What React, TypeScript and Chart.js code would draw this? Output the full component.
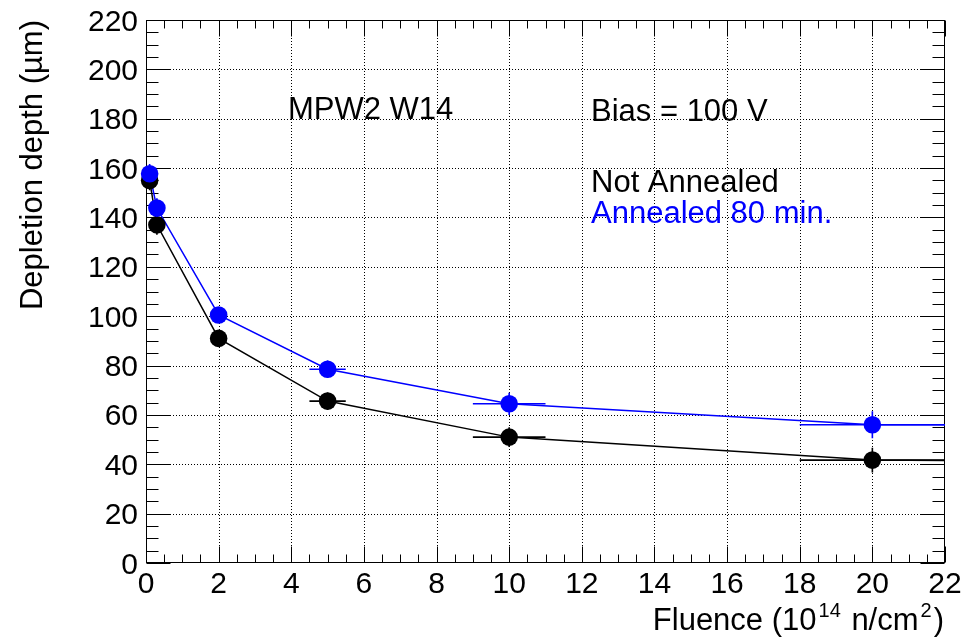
import React, { useEffect, useRef } from "react";
import { Chart, registerables } from "chart.js";

Chart.register(...registerables);

// ---- data ----
const fluence = [0.1, 0.3, 2, 5, 10, 20];
const fluenceErr = [0.01, 0.03, 0.2, 0.5, 1, 2];
const notAnnealed = [155, 137, 91, 65.6, 51, 41.7];
const notAnnealedErr = [4, 4, 3, 3.5, 4, 5];
const annealed = [157.7, 143.8, 100.5, 78.5, 64.5, 56];
const annealedErr = [4, 4, 3, 3.5, 4.5, 5.5];
const tailX = 22;
const notAnnealedTail = 41.5;
const annealedTail = 56;

const xRange = [0, 22];
const yRange = [0, 220];
const xMajorStep = 2;
const yMajorStep = 20;
const xMinorPerMajor = 4;
const yMinorPerMajor = 4;

const xTitleParts = [
  { t: "Fluence (10", sup: false },
  { t: "14", sup: true },
  { t: " n/cm", sup: false },
  { t: "2", sup: true },
  { t: ")", sup: false },
];
const yTitle = "Depletion depth (\u00b5m)";
const labelTitle = "MPW2 W14";
const labelBias = "Bias = 100 V";
const legendNot = "Not Annealed";
const legendAnn = "Annealed 80 min.";

const BLACK = "#000000";
const BLUE = "#0000ff";
const FONT = '"Liberation Sans", Arial, Helvetica, sans-serif';

const toPts = (xs: number[], ys: number[]) => xs.map((x, i) => ({ x, y: ys[i] }));

const rootPlugin = {
  id: "rootStyle",
  beforeDatasetsDraw(chart: any) {
    const { ctx, chartArea: a } = chart;
    const xs = chart.scales.x;
    const ys = chart.scales.y;
    ctx.save();
    // dotted grid
    ctx.strokeStyle = BLACK;
    ctx.lineWidth = 1;
    ctx.setLineDash([1, 2]);
    xs.ticks.forEach((t: any) => {
      if (t.value <= xs.min || t.value >= xs.max) return;
      const px = Math.round(xs.getPixelForValue(t.value)) + 0.5;
      ctx.beginPath();
      ctx.moveTo(px, a.top);
      ctx.lineTo(px, a.bottom);
      ctx.stroke();
    });
    ys.ticks.forEach((t: any) => {
      if (t.value <= ys.min || t.value >= ys.max) return;
      const py = Math.round(ys.getPixelForValue(t.value)) + 0.5;
      ctx.beginPath();
      ctx.moveTo(a.left, py);
      ctx.lineTo(a.right, py);
      ctx.stroke();
    });
    ctx.setLineDash([]);

    // frame
    const L = Math.round(a.left) + 0.5;
    const R = Math.round(a.right) - 0.5;
    const T = Math.round(a.top) + 0.5;
    const B = Math.round(a.bottom) - 0.5;
    ctx.lineWidth = 1;
    ctx.strokeRect(L, T, R - L, B - T);

    // ticks (inside, all four sides)
    const xMajLen = 16, xMinLen = 8, yMajLen = 24, yMinLen = 12;
    const xMinorStep = xMajorStep / xMinorPerMajor;
    for (let i = 0; ; i++) {
      const v = xs.min + i * xMinorStep;
      if (v > xs.max + 1e-9) break;
      const major = i % xMinorPerMajor === 0;
      const len = major ? xMajLen : xMinLen;
      const px = Math.round(xs.getPixelForValue(v)) + 0.5;
      ctx.beginPath();
      ctx.moveTo(px, B);
      ctx.lineTo(px, B - len);
      ctx.moveTo(px, T);
      ctx.lineTo(px, T + len);
      ctx.stroke();
    }
    const yMinorStep = yMajorStep / yMinorPerMajor;
    for (let i = 0; ; i++) {
      const v = ys.min + i * yMinorStep;
      if (v > ys.max + 1e-9) break;
      const major = i % yMinorPerMajor === 0;
      const len = major ? yMajLen : yMinLen;
      const py = Math.round(ys.getPixelForValue(v)) + 0.5;
      ctx.beginPath();
      ctx.moveTo(L, py);
      ctx.lineTo(L + len, py);
      ctx.moveTo(R, py);
      ctx.lineTo(R - len, py);
      ctx.stroke();
    }

    // error bars
    const drawErr = (vals: number[], errs: number[], color: string) => {
      ctx.strokeStyle = color;
      ctx.lineWidth = 1.6;
      fluence.forEach((fx, i) => {
        const cx = xs.getPixelForValue(fx);
        const cy = ys.getPixelForValue(vals[i]);
        const x0 = xs.getPixelForValue(fx - fluenceErr[i]);
        const x1 = xs.getPixelForValue(fx + fluenceErr[i]);
        const y0 = ys.getPixelForValue(vals[i] - errs[i]);
        const y1 = ys.getPixelForValue(vals[i] + errs[i]);
        ctx.beginPath();
        ctx.moveTo(x0, cy);
        ctx.lineTo(x1, cy);
        ctx.moveTo(cx, y0);
        ctx.lineTo(cx, y1);
        ctx.stroke();
      });
    };
    drawErr(notAnnealed, notAnnealedErr, BLACK);
    drawErr(annealed, annealedErr, BLUE);
    ctx.restore();
  },
  afterDraw(chart: any) {
    const { ctx, chartArea: a } = chart;
    const xs = chart.scales.x;
    const ys = chart.scales.y;
    ctx.save();
    ctx.fillStyle = BLACK;
    // tick labels
    ctx.font = `30px ${FONT}`;
    ctx.textBaseline = "alphabetic";
    ctx.textAlign = "center";
    xs.ticks.forEach((t: any) => {
      ctx.fillText(String(t.value), xs.getPixelForValue(t.value), a.bottom + 30);
    });
    ctx.textAlign = "right";
    ys.ticks.forEach((t: any) => {
      ctx.fillText(String(t.value), a.left - 8, ys.getPixelForValue(t.value) + 10.5);
    });

    // x title with superscripts
    const big = `31px ${FONT}`;
    const small = `20px ${FONT}`;
    const supPad = 2;
    let total = 0;
    xTitleParts.forEach((p) => {
      ctx.font = p.sup ? small : big;
      total += ctx.measureText(p.t).width + (p.sup ? 2 * supPad : 0);
    });
    let cx = a.right - 1 - total;
    ctx.textAlign = "left";
    xTitleParts.forEach((p) => {
      ctx.font = p.sup ? small : big;
      if (p.sup) cx += supPad;
      ctx.fillText(p.t, cx, p.sup ? 617 : 630);
      cx += ctx.measureText(p.t).width + (p.sup ? supPad : 0);
    });

    // y title
    ctx.font = big;
    ctx.save();
    ctx.translate(42, a.top);
    ctx.rotate(-Math.PI / 2);
    ctx.textAlign = "right";
    ctx.fillText(yTitle, 0, 0);
    ctx.restore();

    // annotations
    ctx.textAlign = "left";
    ctx.font = big;
    ctx.fillText(labelTitle, 288, 119);
    ctx.fillText(labelBias, 591, 121);
    ctx.fillText(legendNot, 591, 192);
    ctx.fillStyle = BLUE;
    ctx.fillText(legendAnn, 591, 223);
    ctx.restore();
  },
};

export default function App() {
  const ref = useRef<HTMLCanvasElement | null>(null);
  useEffect(() => {
    document.body.style.margin = "0";
    const canvas = ref.current;
    if (!canvas) return;
    const chart = new Chart(canvas, {
      type: "scatter",
      data: {
        datasets: [
          {
            data: toPts(fluence, annealed),
            backgroundColor: BLUE,
            borderColor: BLUE,
            pointRadius: 8.8,
            borderWidth: 0,
            showLine: false,
            clip: false,
          } as any,
          {
            data: toPts(fluence, notAnnealed),
            backgroundColor: BLACK,
            borderColor: BLACK,
            pointRadius: 8.8,
            borderWidth: 0,
            showLine: false,
            clip: false,
          } as any,
          {
            data: toPts([...fluence, tailX], [...annealed, annealedTail]),
            borderColor: BLUE,
            backgroundColor: BLUE,
            borderWidth: 1.5,
            pointRadius: 0,
            showLine: true,
            clip: false,
          } as any,
          {
            data: toPts([...fluence, tailX], [...notAnnealed, notAnnealedTail]),
            borderColor: BLACK,
            backgroundColor: BLACK,
            borderWidth: 1.5,
            pointRadius: 0,
            showLine: true,
            clip: false,
          } as any,
        ],
      },
      options: {
        animation: false,
        responsive: false,
        devicePixelRatio: 1,
        events: [],
        layout: { padding: { left: 146, right: 29, top: 20, bottom: 75 } },
        plugins: { legend: { display: false }, tooltip: { enabled: false } },
        scales: {
          x: {
            type: "linear",
            display: false,
            min: xRange[0],
            max: xRange[1],
            ticks: { stepSize: xMajorStep },
          },
          y: {
            type: "linear",
            display: false,
            min: yRange[0],
            max: yRange[1],
            ticks: { stepSize: yMajorStep },
          },
        },
      },
      plugins: [rootPlugin],
    });
    return () => chart.destroy();
  }, []);
  return (
    <div style={{ width: 974, height: 638, background: "#fff" }}>
      <canvas ref={ref} width={974} height={638} style={{ display: "block" }} />
    </div>
  );
}
